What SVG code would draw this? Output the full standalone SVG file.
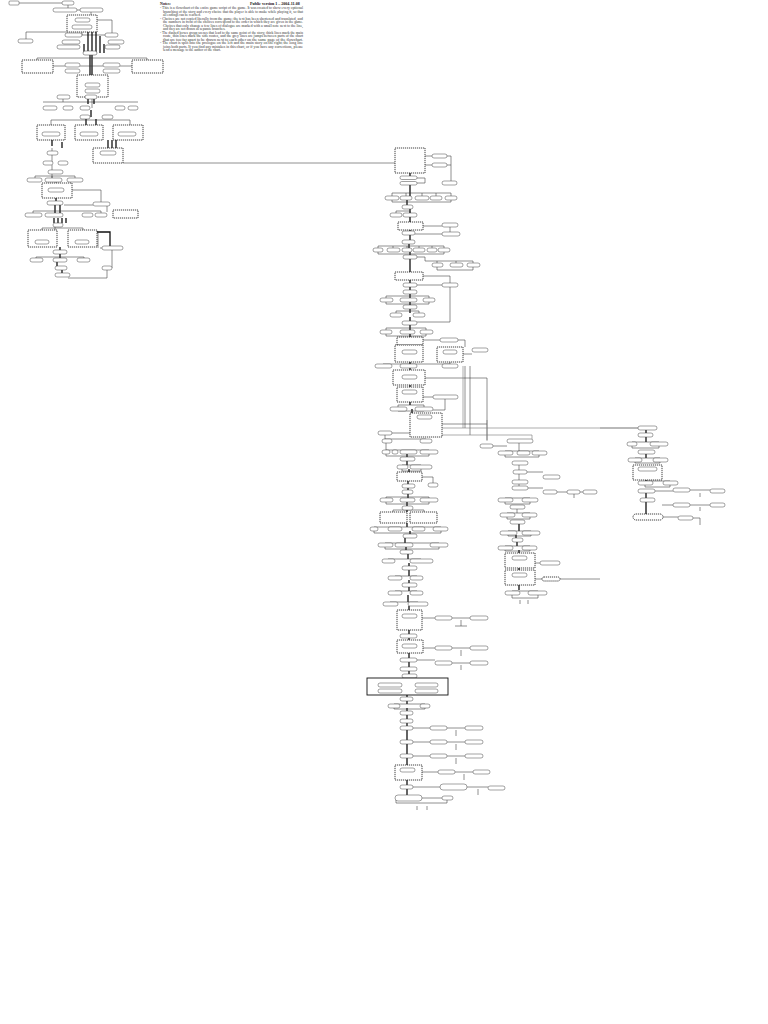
<svg xmlns="http://www.w3.org/2000/svg" width="768" height="1024" viewBox="0 0 768 1024">
<style>
.o{fill:#fff;stroke:#444;stroke-width:0.5}
.d{fill:#fff;stroke:#111;stroke-width:0.8;stroke-dasharray:1.2 0.8}
.c{fill:none;stroke:#333;stroke-width:0.55}
.k{fill:none;stroke:#111;stroke-width:1.3}
.g{fill:none;stroke:#777;stroke-width:0.6}
.n{font-family:"Liberation Serif",serif;font-size:3.5px;fill:#333}
.h{font-family:"Liberation Serif",serif;font-size:4px;font-weight:bold;fill:#111}
</style>
<rect width="768" height="1024" fill="#fff"/>
<g id="notes">
<text class="h" x="160" y="5">Notes:</text>
<text class="h" x="250" y="5">Public version 1 – 2004-11-08</text>
<text class="n" x="160" y="9" textLength="143" lengthAdjust="spacingAndGlyphs">- This is a flowchart of the entire game script of the game. It was created to show every optional</text>
<text class="n" x="163" y="12.5" textLength="140" lengthAdjust="spacingAndGlyphs">branching of the story and every choice that the player is able to make while playing it, so that</text>
<text class="n" x="163" y="16">all endings can be reached.</text>
<text class="n" x="160" y="19.5" textLength="143" lengthAdjust="spacingAndGlyphs">- Choices are not copied literally from the game; the text has been shortened and translated, and</text>
<text class="n" x="163" y="23" textLength="140" lengthAdjust="spacingAndGlyphs">the numbers in front of the choices correspond to the order in which they are given in the game.</text>
<text class="n" x="163" y="26.5" textLength="140" lengthAdjust="spacingAndGlyphs">Choices that only change a few lines of dialogue are marked with a small note next to the line,</text>
<text class="n" x="163" y="30">and they are not drawn as separate branches.</text>
<text class="n" x="160" y="33.5" textLength="143" lengthAdjust="spacingAndGlyphs">- The dashed boxes group scenes that lead to the same point of the story; thick lines mark the main</text>
<text class="n" x="163" y="37" textLength="140" lengthAdjust="spacingAndGlyphs">route, thin lines mark the side routes, and the grey lines are jumps between parts of the chart</text>
<text class="n" x="163" y="40.5" textLength="140" lengthAdjust="spacingAndGlyphs">that are too far apart to be drawn next to each other on the same page of the flowchart.</text>
<text class="n" x="160" y="44" textLength="143" lengthAdjust="spacingAndGlyphs">- The chart is split into the prologue on the left and the main story on the right; the long line</text>
<text class="n" x="163" y="47.5" textLength="140" lengthAdjust="spacingAndGlyphs">joins both parts. If you find any mistakes in this chart, or if you have any corrections, please</text>
<text class="n" x="163" y="51">send a message to the author of the chart.</text>
</g>
<g id="connectors">
<path class="c" d="M18 3H62M68 5V10M65 10H91M91 10V15M82 32V35M74 35H112M74 35V33M112 33V35M26 39V32H67M97 20H112V33"/>
<path class="k" d="M88 32V53M92 32V53M96 32V53M100 36V53M84 44V53M104 44V53M90 55V75M92 55V75"/>
<path class="c" d="M53 66H65M80 66H103M120 66H132M37 58V60M147 58V60M37 58H147M92 97V108M63 97V102H43M63 102H138"/>
<path class="k" d="M88 99V104M94 99V104M91 110V117M86 119V125M96 119V125M62 142V148M52 140V146M108 140V148M112 140V148M116 140V148"/>
<path class="c" d="M51 120H130M51 120V125M130 120V125M52 148V163M52 165V180M35 176H75M35 176V178M75 176V178M52 176V178M56 182V183"/>
<path class="k" d="M56 198V203M55 205V213M60 205V213M54 218V223M58 218V223M62 218V223M66 218V223"/>
<path class="c" d="M33 211H101M33 211V213M101 211V213M72 190H101V202M123 163H395M107 212V206M64 205H93M55 227V230M42 228H83M42 228V230M83 228V230"/>
<path class="k" d="M60 247V252M60 254V258M57 262V268M62 270V275M97 232H110V248"/>
<path class="c" d="M36 257H84M36 257V258M84 257V258M112 250V268M107 270V278H68M100 248H102M98 248V232"/>
<path class="k" d="M410 173V178M410 185V196M407 200V205M410 209V213M410 217V222M410 230V240M409 244V248M410 252V255M410 259V272M410 280V283M410 287V290M410 294V298M410 302V305M410 309V313M410 317V321M410 325V330M410 334V337M410 345V364M410 368V370M410 385V387M410 402V405M412 409V413M407 452V457M407 461V465M409 469V472M408 481V484M408 488V490M408 494V498M407 502V506M407 510V512M407 523V527M410 531V534M405 538V543M406 547V550M408 554V559M409 563V566M409 570V576M409 580V583M409 587V591M408 595V602M409 606V610M409 630V634M409 638V640M409 653V658M409 662V667M409 671V674M409 678V680M407 695V697M407 701V704M407 708V711M407 715V719M407 723V726M407 730V740M407 744V754M407 758V765M407 780V785M407 789V796"/>
<path class="c" d="M425 156H432M425 165H432M447 156H451V183M447 165H451M417 178H425V183H417M392 193H451M392 193V196M406 193V196M422 193V196M436 193V196M451 193V196M392 200V202H451V200"/>
<path class="c" d="M396 211H410M396 211V213M410 211V213M423 226H442M450 227V233M415 234H442M378 246H444M378 246V248M393 246V248M407 246V248M419 246V248M432 246V248M444 246V248M378 252V254H444V252"/>
<path class="c" d="M417 257H425V261H473M437 261V263M456 261V263M473 261V263M437 267V270H473V267M423 276H450V285M417 285H442M386 296H429M386 296V298M429 296V298M386 302V304H429V302M396 311H419M396 311V313M419 311V313"/>
<path class="c" d="M450 287V322H417M386 328H426M386 328V330M426 328V330M386 334V336H426V334M423 340H440M458 340H465V347M463 354H472M383 364H450M383 364V366M450 364V362M465 366V428M470 366V435"/>
<path class="c" d="M425 378H487V440M423 397H433M445 399V410H433M398 405H424M398 405V407M424 405V407M398 409V411H424V409M442 424H487M385 431V433H410M385 435V439H426M426 439V441M386 443V450H429"/>
<path class="g" d="M442 428H638M442 435H532V439M463 366V428M487 420V441"/>
<path class="c" d="M386 450V452M395 450V452M408 450V452M429 450V452M386 454V456H429V454M402 465H421M402 465V467M421 465V467M402 469V471H421V469M422 477H433V483M386 497H429M386 497V498M429 497V498M386 502V504H429V502"/>
<path class="c" d="M393 510H424M393 510V512M424 510V512M374 527H441M374 531V533H441V531M385 543H439M385 543V544M439 543V544M385 547V549H439V547"/>
<path class="c" d="M388 559H421M388 559V560M421 559V560M395 576H417M395 576V577M417 576V577M395 591H417M395 591V592M417 591V592M390 602H418M390 602V603M418 602V603"/>
<path class="c" d="M422 618H435M452 618H470M461 620V626M455 626H467M422 648H435M452 648H470M461 650V656M417 660H435M452 663H470M461 665V670"/>
<path class="k" d="M378 683V680H447V683M378 688V693M447 688V693M388 688V695M426 688V695M404 686V695M412 686V695"/>
<path class="c" d="M394 704H425M394 704V705M425 704V705M394 708V709H425V708M413 728H430M447 728H465M456 730V736M413 742H430M447 742H465M456 744V750M413 756H430M447 756H465M456 758V764M422 772H438M455 772H473M464 774V780M413 787H440M467 787H488M478 789V795M422 798H442M396 800V803H447V800M417 806V810M427 806V810"/>
<path class="c" d="M493 446H507M519 443V451M505 451H539M505 455V457H539V455M519 465V470M519 474V480M527 472H543M519 484V486M528 488H543M557 492H567M580 492H583M574 494V498M505 498H530M505 502V504H530V502M517 509V513M507 513H530M507 517V519H530V517"/>
<path class="k" d="M519 524V531M516 535V538M517 542V546M519 550V553M519 568V570M519 585V590"/>
<path class="c" d="M508 531H531M508 535V536H531V535M505 546H530M505 550V551H530V550M535 563H540M535 579H542M560 579H600M512 591H538M512 595V598H538V595M520 600V604M528 600V604"/>
<path class="g" d="M600 428H638"/>
<path class="k" d="M646 430V433M646 437V442M646 454V458M646 480V481M646 493V498M646 502V515"/>
<path class="c" d="M632 442H659M632 446V448H659V446M635 458H660M635 462V463H660V462M645 481H670M645 485V487H670V485M655 491H673M690 490H710M700 493V497M662 505H673M690 505H710M700 507V511M663 517H678M693 518H700V525"/>
</g>
<g id="left-nodes">
<g id="L01"><rect class="o" x="9" y="1" width="10" height="4" rx="1"/></g>
<g id="L02"><rect class="o" x="62" y="1" width="12" height="4" rx="2"/></g>
<g id="L03"><rect class="o" x="53" y="8" width="24" height="4" rx="2"/></g>
<g id="L04"><rect class="o" x="80" y="8" width="23" height="4" rx="2"/></g>
<g id="L05"><rect class="d" x="67" y="15" width="30" height="17"/><rect class="o" x="75" y="18" width="15" height="4" rx="2"/><rect class="o" x="72" y="25" width="20" height="4" rx="2"/></g>
<g id="L06"><rect class="o" x="18" y="39" width="15" height="4" rx="2"/></g>
<g id="L07"><rect class="o" x="65" y="33" width="17" height="4" rx="2"/></g>
<g id="L08"><rect class="o" x="105" y="33" width="13" height="4" rx="2"/></g>
<g id="L09"><rect class="o" x="62" y="40" width="18" height="4" rx="2"/></g>
<g id="L10"><rect class="o" x="108" y="40" width="16" height="4" rx="2"/></g>
<g id="L11"><rect class="o" x="57" y="45" width="23" height="4" rx="2"/></g>
<g id="L12"><rect class="o" x="105" y="45" width="15" height="4" rx="2"/></g>
<g id="L13"><rect class="o" x="83" y="51" width="14" height="4" rx="2"/></g>
<g id="L14"><rect class="d" x="22" y="60" width="31" height="13"/></g>
<g id="L15"><rect class="o" x="65" y="63" width="15" height="4" rx="2"/><rect class="o" x="65" y="69" width="15" height="4" rx="2"/></g>
<g id="L16"><rect class="o" x="103" y="63" width="17" height="4" rx="2"/><rect class="o" x="103" y="69" width="17" height="4" rx="2"/></g>
<g id="L17"><rect class="d" x="132" y="60" width="31" height="13"/></g>
<g id="L18"><rect class="d" x="77" y="75" width="31" height="22"/><rect class="o" x="85" y="83" width="15" height="4" rx="2"/><rect class="o" x="85" y="89" width="15" height="4" rx="2"/></g>
<g id="L19"><rect class="o" x="57" y="95" width="13" height="4" rx="2"/></g>
<g id="L20"><rect class="o" x="85" y="95" width="12" height="4" rx="2"/></g>
<g id="L21"><rect class="o" x="43" y="106" width="14" height="4" rx="2"/><rect class="o" x="63" y="106" width="10" height="4" rx="2"/><rect class="o" x="80" y="106" width="10" height="4" rx="2"/><rect class="o" x="115" y="106" width="10" height="4" rx="2"/><rect class="o" x="128" y="106" width="10" height="4" rx="2"/></g>
<g id="L22"><rect class="o" x="80" y="115" width="10" height="4" rx="2"/><rect class="o" x="102" y="115" width="11" height="4" rx="2"/></g>
<g id="L23"><rect class="d" x="37" y="125" width="28" height="15"/><rect class="o" x="42" y="132" width="18" height="4" rx="2"/></g>
<g id="L24"><rect class="d" x="75" y="125" width="28" height="15"/><rect class="o" x="80" y="132" width="18" height="4" rx="2"/></g>
<g id="L25"><rect class="d" x="113" y="125" width="30" height="15"/><rect class="o" x="118" y="132" width="18" height="4" rx="2"/></g>
<g id="L26"><rect class="d" x="93" y="148" width="30" height="15"/><rect class="o" x="100" y="151" width="16" height="4" rx="2"/></g>
<g id="L27"><rect class="o" x="47" y="151" width="11" height="4" rx="2"/></g>
<g id="L28"><rect class="o" x="43" y="161" width="10" height="4" rx="2"/><rect class="o" x="58" y="161" width="10" height="4" rx="2"/></g>
<g id="L29"><rect class="o" x="48" y="170" width="15" height="4" rx="2"/></g>
<g id="L30"><rect class="o" x="27" y="178" width="15" height="4" rx="2"/><rect class="o" x="45" y="178" width="17" height="4" rx="2"/><rect class="o" x="67" y="178" width="16" height="4" rx="2"/></g>
<g id="L31"><rect class="d" x="42" y="183" width="30" height="15"/><rect class="o" x="48" y="188" width="16" height="4" rx="2"/></g>
<g id="L32"><rect class="o" x="47" y="201" width="16" height="4" rx="2"/><rect class="o" x="93" y="202" width="17" height="4" rx="2"/></g>
<g id="L33"><rect class="o" x="25" y="213" width="17" height="4" rx="2"/><rect class="o" x="45" y="213" width="18" height="4" rx="2"/><rect class="o" x="82" y="213" width="11" height="4" rx="2"/><rect class="o" x="95" y="213" width="12" height="4" rx="2"/></g>
<g id="L34"><rect class="d" x="113" y="210" width="25" height="8"/></g>
<g id="L35"><rect class="o" x="53" y="223" width="10" height="4" rx="2"/></g>
<g id="L36"><rect class="d" x="28" y="230" width="29" height="17"/><rect class="o" x="35" y="240" width="14" height="4" rx="2"/></g>
<g id="L37"><rect class="d" x="68" y="230" width="29" height="17"/><rect class="o" x="75" y="240" width="14" height="4" rx="2"/></g>
<g id="L38"><rect class="o" x="102" y="246" width="21" height="4" rx="2"/></g>
<g id="L39"><rect class="o" x="53" y="250" width="14" height="4" rx="2"/></g>
<g id="L40"><rect class="o" x="30" y="258" width="13" height="4" rx="2"/><rect class="o" x="53" y="258" width="14" height="4" rx="2"/><rect class="o" x="77" y="258" width="13" height="4" rx="2"/></g>
<g id="L41"><rect class="o" x="102" y="266" width="10" height="4" rx="2"/><rect class="o" x="55" y="266" width="12" height="4" rx="2"/></g>
<g id="L42"><rect class="o" x="55" y="273" width="15" height="4" rx="2"/></g>
</g>
<g id="right-nodes">
<g id="R01"><rect class="d" x="395" y="148" width="30" height="25"/></g>
<g id="R02"><rect class="o" x="432" y="154" width="15" height="4" rx="2"/><rect class="o" x="432" y="163" width="15" height="4" rx="2"/></g>
<g id="R03"><rect class="o" x="400" y="176" width="17" height="3.5" rx="1.7"/><rect class="o" x="400" y="181.5" width="17" height="3.5" rx="1.7"/><rect class="o" x="442" y="181" width="15" height="4" rx="2"/></g>
<g id="R04"><rect class="o" x="385" y="196" width="14" height="4" rx="2"/><rect class="o" x="400" y="196" width="12" height="4" rx="2"/><rect class="o" x="415" y="196" width="14" height="4" rx="2"/><rect class="o" x="430" y="196" width="12" height="4" rx="2"/><rect class="o" x="445" y="196" width="12" height="4" rx="2"/></g>
<g id="R05"><rect class="o" x="402" y="205" width="11" height="4" rx="2"/></g>
<g id="R06"><rect class="o" x="390" y="213" width="12" height="4" rx="2"/><rect class="o" x="403" y="213" width="14" height="4" rx="2"/></g>
<g id="R07"><rect class="d" x="398" y="222" width="25" height="8"/><rect class="o" x="442" y="223" width="16" height="4" rx="2"/></g>
<g id="R08"><rect class="o" x="402" y="231" width="13" height="4" rx="2"/><rect class="o" x="442" y="232" width="18" height="4" rx="2"/><rect class="o" x="402" y="240" width="13" height="4" rx="2"/></g>
<g id="R09"><rect class="o" x="373" y="248" width="10" height="4" rx="2"/><rect class="o" x="387" y="248" width="13" height="4" rx="2"/><rect class="o" x="402" y="248" width="10" height="4" rx="2"/><rect class="o" x="413" y="248" width="12" height="4" rx="2"/><rect class="o" x="427" y="248" width="10" height="4" rx="2"/><rect class="o" x="438" y="248" width="12" height="4" rx="2"/></g>
<g id="R10"><rect class="o" x="403" y="255" width="14" height="4" rx="2"/><rect class="o" x="432" y="263" width="11" height="4" rx="2"/><rect class="o" x="450" y="263" width="13" height="4" rx="2"/><rect class="o" x="467" y="263" width="13" height="4" rx="2"/></g>
<g id="R11"><rect class="d" x="395" y="272" width="28" height="8"/></g>
<g id="R12"><rect class="o" x="403" y="283" width="14" height="4" rx="2"/><rect class="o" x="442" y="283" width="16" height="4" rx="2"/><rect class="o" x="403" y="290" width="14" height="4" rx="2"/></g>
<g id="R13"><rect class="o" x="380" y="298" width="13" height="4" rx="2"/><rect class="o" x="400" y="298" width="17" height="4" rx="2"/><rect class="o" x="423" y="298" width="12" height="4" rx="2"/><rect class="o" x="403" y="305" width="14" height="4" rx="2"/></g>
<g id="R14"><rect class="o" x="390" y="313" width="12" height="4" rx="2"/><rect class="o" x="413" y="313" width="12" height="4" rx="2"/><rect class="o" x="402" y="321" width="15" height="4" rx="2"/></g>
<g id="R15"><rect class="o" x="380" y="330" width="12" height="4" rx="2"/><rect class="o" x="400" y="330" width="15" height="4" rx="2"/><rect class="o" x="420" y="330" width="13" height="4" rx="2"/></g>
<g id="R16"><rect class="d" x="397" y="337" width="26" height="8"/><rect class="d" x="395" y="345" width="28" height="17"/><rect class="o" x="402" y="350" width="15" height="4" rx="2"/></g>
<g id="R17"><rect class="o" x="440" y="338" width="18" height="4" rx="2"/><rect class="d" x="437" y="347" width="26" height="15"/><rect class="o" x="443" y="350" width="14" height="4" rx="2"/><rect class="o" x="472" y="348" width="16" height="4" rx="2"/></g>
<g id="R18"><rect class="o" x="375" y="364" width="17" height="4" rx="2"/><rect class="o" x="400" y="364" width="17" height="4" rx="2"/><rect class="o" x="442" y="364" width="16" height="4" rx="2"/></g>
<g id="R19"><rect class="d" x="393" y="370" width="32" height="15"/><rect class="o" x="402" y="375" width="15" height="4" rx="2"/></g>
<g id="R20"><rect class="d" x="397" y="387" width="26" height="15"/><rect class="o" x="402" y="390" width="15" height="4" rx="2"/><rect class="o" x="433" y="395" width="25" height="4" rx="2"/></g>
<g id="R21"><rect class="o" x="390" y="407" width="17" height="4" rx="2"/><rect class="o" x="415" y="407" width="18" height="4" rx="2"/></g>
<g id="R22"><rect class="d" x="410" y="413" width="32" height="24"/><rect class="o" x="417" y="415" width="15" height="4" rx="2"/></g>
<g id="R23"><rect class="o" x="378" y="431" width="14" height="4" rx="2"/><rect class="o" x="382" y="439" width="10" height="4" rx="2"/><rect class="o" x="420" y="439" width="12" height="4" rx="2"/></g>
<g id="R24"><rect class="o" x="382" y="450" width="8" height="4" rx="2"/><rect class="o" x="392" y="450" width="6" height="4" rx="2"/><rect class="o" x="400" y="450" width="17" height="4" rx="2"/><rect class="o" x="420" y="450" width="18" height="4" rx="2"/><rect class="o" x="400" y="457" width="15" height="4" rx="2"/></g>
<g id="R25"><rect class="o" x="397" y="465" width="11" height="4" rx="2"/><rect class="o" x="410" y="465" width="22" height="4" rx="2"/></g>
<g id="R26"><rect class="d" x="397" y="472" width="25" height="9"/><rect class="o" x="428" y="483" width="10" height="4" rx="2"/><rect class="o" x="402" y="484" width="13" height="4" rx="2"/><rect class="o" x="402" y="490" width="11" height="4" rx="2"/></g>
<g id="R27"><rect class="o" x="380" y="498" width="13" height="4" rx="2"/><rect class="o" x="400" y="498" width="15" height="4" rx="2"/><rect class="o" x="420" y="498" width="18" height="4" rx="2"/><rect class="o" x="402" y="506" width="11" height="4" rx="2"/></g>
<g id="R28"><rect class="d" x="380" y="512" width="27" height="11"/><rect class="d" x="410" y="512" width="27" height="11"/></g>
<g id="R29"><rect class="o" x="370" y="527" width="8" height="4" rx="2"/><rect class="o" x="388" y="527" width="14" height="4" rx="2"/><rect class="o" x="412" y="527" width="13" height="4" rx="2"/><rect class="o" x="433" y="527" width="15" height="4" rx="2"/><rect class="o" x="403" y="534" width="14" height="4" rx="2"/></g>
<g id="R30"><rect class="o" x="378" y="543" width="15" height="4" rx="2"/><rect class="o" x="395" y="543" width="18" height="4" rx="2"/><rect class="o" x="430" y="543" width="18" height="4" rx="2"/><rect class="o" x="400" y="550" width="13" height="4" rx="2"/></g>
<g id="R31"><rect class="o" x="382" y="559" width="13" height="4" rx="2"/><rect class="o" x="410" y="559" width="23" height="4" rx="2"/><rect class="o" x="402" y="566" width="15" height="4" rx="2"/></g>
<g id="R32"><rect class="o" x="388" y="576" width="14" height="4" rx="2"/><rect class="o" x="410" y="576" width="13" height="4" rx="2"/><rect class="o" x="402" y="583" width="15" height="4" rx="2"/></g>
<g id="R33"><rect class="o" x="388" y="591" width="14" height="4" rx="2"/><rect class="o" x="410" y="591" width="13" height="4" rx="2"/><rect class="o" x="383" y="602" width="15" height="4" rx="2"/><rect class="o" x="408" y="602" width="20" height="4" rx="2"/></g>
<g id="R34"><rect class="d" x="397" y="610" width="25" height="20"/><rect class="o" x="402" y="614" width="15" height="4" rx="2"/><rect class="o" x="435" y="616" width="17" height="4" rx="2"/><rect class="o" x="470" y="616" width="18" height="4" rx="2"/></g>
<g id="R35"><rect class="o" x="400" y="634" width="17" height="4" rx="2"/><rect class="d" x="397" y="640" width="26" height="13"/><rect class="o" x="402" y="644" width="15" height="4" rx="2"/><rect class="o" x="435" y="646" width="17" height="4" rx="2"/><rect class="o" x="470" y="646" width="18" height="4" rx="2"/></g>
<g id="R36"><rect class="o" x="400" y="658" width="17" height="4" rx="2"/><rect class="o" x="435" y="661" width="17" height="4" rx="2"/><rect class="o" x="470" y="661" width="18" height="4" rx="2"/><rect class="o" x="400" y="667" width="17" height="4" rx="2"/><rect class="o" x="402" y="674" width="15" height="4" rx="2"/></g>
<g id="R37"><rect fill="#fff" stroke="#111" stroke-width="0.9" x="367" y="678" width="81" height="17"/><rect class="o" x="378" y="683" width="24" height="4" rx="2"/><rect class="o" x="415" y="683" width="23" height="4" rx="2"/><rect class="o" x="378" y="689" width="24" height="4" rx="2"/><rect class="o" x="415" y="689" width="23" height="4" rx="2"/></g>
<g id="R38"><rect class="o" x="400" y="697" width="13" height="4" rx="2"/><rect class="o" x="388" y="704" width="12" height="4" rx="2"/><rect class="o" x="420" y="704" width="10" height="4" rx="2"/></g>
<g id="R39"><rect class="o" x="400" y="711" width="13" height="4" rx="2"/><rect class="o" x="400" y="719" width="13" height="4" rx="2"/></g>
<g id="R40"><rect class="o" x="400" y="726" width="13" height="4" rx="2"/><rect class="o" x="430" y="726" width="17" height="4" rx="2"/><rect class="o" x="465" y="726" width="18" height="4" rx="2"/></g>
<g id="R41"><rect class="o" x="400" y="740" width="13" height="4" rx="2"/><rect class="o" x="430" y="740" width="17" height="4" rx="2"/><rect class="o" x="465" y="740" width="18" height="4" rx="2"/></g>
<g id="R42"><rect class="o" x="400" y="754" width="13" height="4" rx="2"/><rect class="o" x="430" y="754" width="17" height="4" rx="2"/><rect class="o" x="465" y="754" width="18" height="4" rx="2"/></g>
<g id="R43"><rect class="d" x="395" y="765" width="27" height="15"/><rect class="o" x="400" y="768" width="15" height="4" rx="2"/><rect class="o" x="438" y="770" width="17" height="4" rx="2"/><rect class="o" x="473" y="770" width="17" height="4" rx="2"/></g>
<g id="R44"><rect class="o" x="400" y="785" width="13" height="4" rx="2"/><rect class="o" x="440" y="784" width="27" height="6" rx="3"/><rect class="o" x="488" y="786" width="17" height="4" rx="2"/></g>
<g id="R45"><rect class="o" x="395" y="795" width="27" height="6" rx="3"/><rect class="o" x="442" y="796" width="11" height="4" rx="2"/></g>
</g>
<g id="middle-nodes">
<g id="M01"><rect class="o" x="507" y="439" width="26" height="4" rx="2"/><rect class="o" x="480" y="444" width="13" height="4" rx="2"/></g>
<g id="M02"><rect class="o" x="498" y="451" width="15" height="4" rx="2"/><rect class="o" x="517" y="451" width="13" height="4" rx="2"/><rect class="o" x="532" y="451" width="15" height="4" rx="2"/></g>
<g id="M03"><rect class="o" x="512" y="461" width="16" height="4" rx="2"/><rect class="o" x="513" y="470" width="14" height="4" rx="2"/><rect class="o" x="543" y="475" width="17" height="4" rx="2"/><rect class="o" x="512" y="480" width="16" height="4" rx="2"/><rect class="o" x="512" y="486" width="16" height="4" rx="2"/></g>
<g id="M04"><rect class="o" x="543" y="490" width="14" height="4" rx="2"/><rect class="o" x="567" y="490" width="13" height="4" rx="2"/><rect class="o" x="583" y="490" width="14" height="4" rx="2"/></g>
<g id="M05"><rect class="o" x="498" y="498" width="15" height="4" rx="2"/><rect class="o" x="522" y="498" width="16" height="4" rx="2"/><rect class="o" x="510" y="505" width="15" height="4" rx="2"/></g>
<g id="M06"><rect class="o" x="500" y="513" width="15" height="4" rx="2"/><rect class="o" x="522" y="513" width="15" height="4" rx="2"/><rect class="o" x="510" y="520" width="15" height="4" rx="2"/></g>
<g id="M07"><rect class="o" x="500" y="531" width="17" height="4" rx="2"/><rect class="o" x="522" y="531" width="18" height="4" rx="2"/><rect class="o" x="512" y="538" width="11" height="4" rx="2"/></g>
<g id="M08"><rect class="o" x="498" y="546" width="15" height="4" rx="2"/><rect class="o" x="522" y="546" width="15" height="4" rx="2"/></g>
<g id="M09"><rect class="d" x="505" y="553" width="30" height="15"/><rect class="o" x="512" y="556" width="15" height="4" rx="2"/><rect class="o" x="540" y="561" width="20" height="4" rx="2"/></g>
<g id="M10"><rect class="d" x="505" y="570" width="30" height="15"/><rect class="o" x="512" y="573" width="15" height="4" rx="2"/><rect class="d" x="542" y="577" width="18" height="4" rx="2"/></g>
<g id="M11"><rect class="o" x="505" y="591" width="15" height="4" rx="2"/><rect class="o" x="528" y="591" width="19" height="4" rx="2"/></g>
</g>
<g id="far-right-nodes">
<g id="F01"><rect class="o" x="638" y="426" width="19" height="4" rx="2"/><rect class="o" x="638" y="433" width="15" height="4" rx="2"/></g>
<g id="F02"><rect class="o" x="627" y="442" width="10" height="4" rx="2"/><rect class="o" x="650" y="442" width="18" height="4" rx="2"/><rect class="o" x="638" y="450" width="17" height="4" rx="2"/></g>
<g id="F03"><rect class="o" x="628" y="458" width="14" height="4" rx="2"/><rect class="o" x="653" y="458" width="15" height="4" rx="2"/></g>
<g id="F04"><rect class="d" x="633" y="465" width="29" height="15"/><rect class="o" x="638" y="467" width="19" height="4" rx="2"/></g>
<g id="F05"><rect class="o" x="638" y="481" width="15" height="4" rx="2"/><rect class="o" x="663" y="481" width="15" height="4" rx="2"/><rect class="o" x="638" y="489" width="17" height="4" rx="2"/></g>
<g id="F06"><rect class="o" x="673" y="488" width="17" height="4" rx="2"/><rect class="o" x="710" y="489" width="15" height="4" rx="2"/><rect class="o" x="640" y="498" width="15" height="4" rx="2"/></g>
<g id="F07"><rect class="o" x="673" y="503" width="17" height="4" rx="2"/><rect class="o" x="710" y="503" width="15" height="4" rx="2"/></g>
<g id="F08"><rect class="d" x="633" y="514" width="30" height="6" rx="3"/><rect class="o" x="678" y="516" width="15" height="4" rx="2"/></g>
</g>
</svg>
